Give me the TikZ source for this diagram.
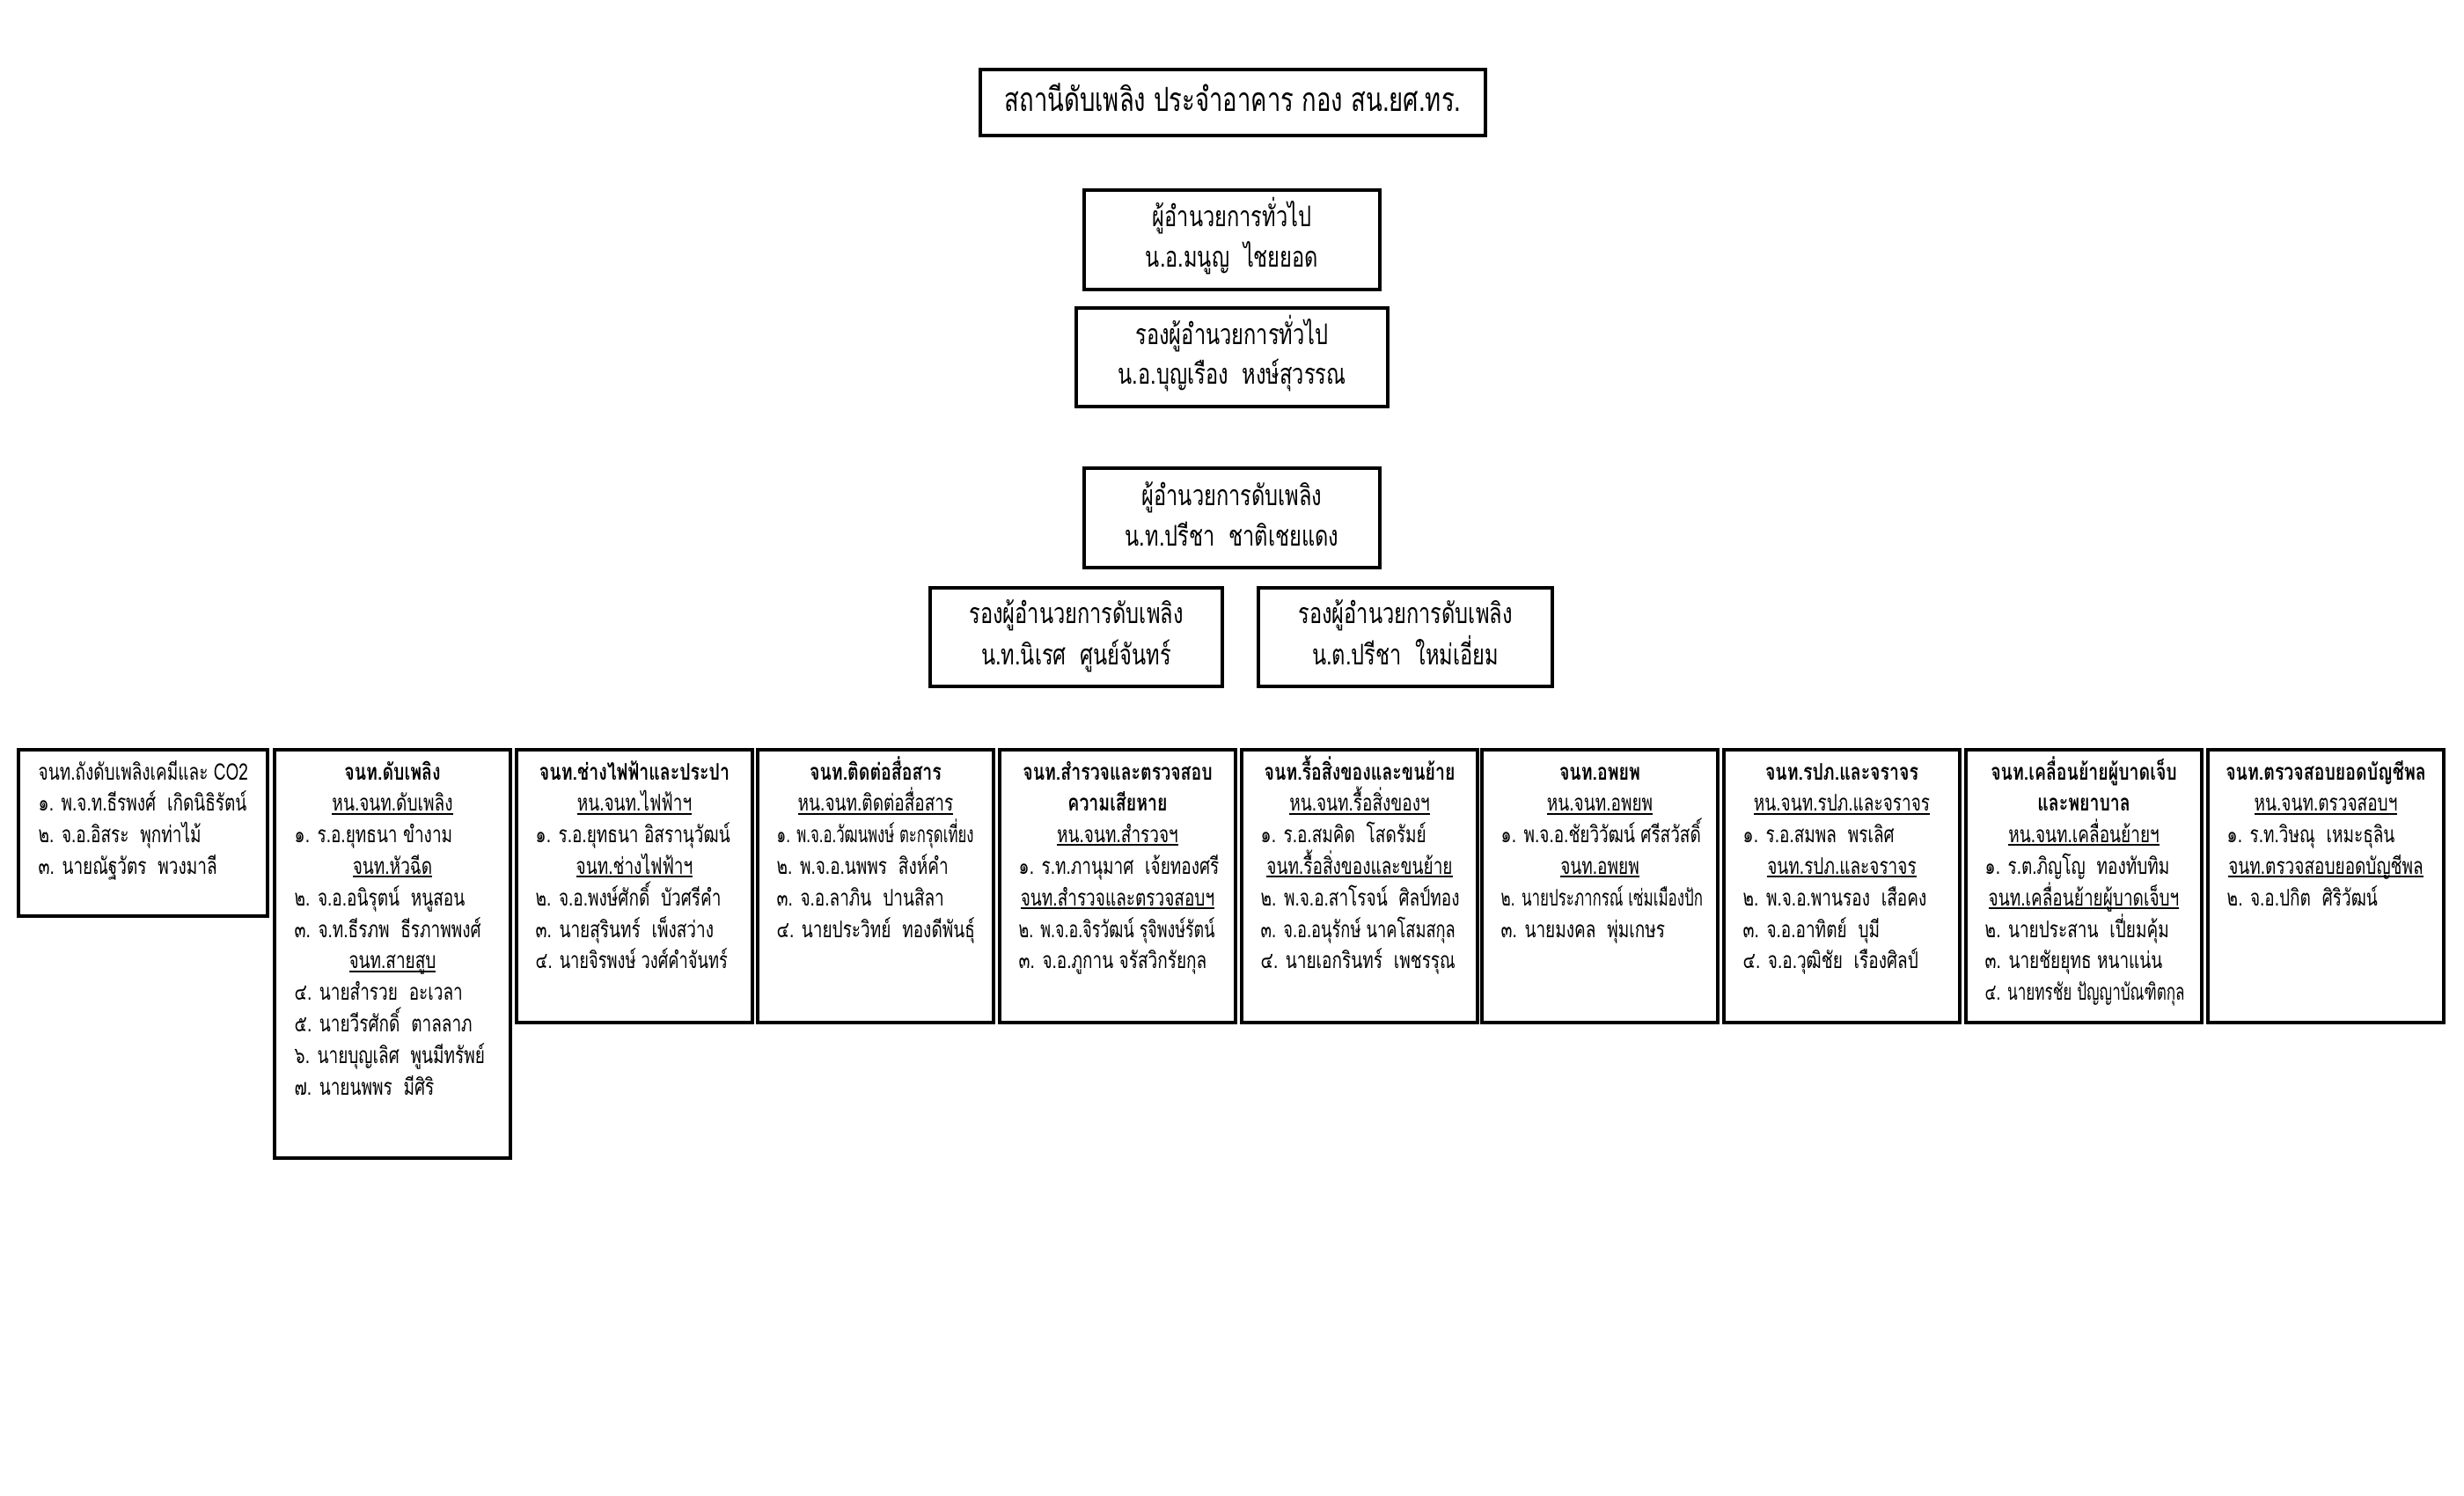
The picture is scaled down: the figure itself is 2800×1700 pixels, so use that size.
\documentclass[tikz,border=0pt]{standalone}
\usepackage{fontspec}
\usepackage{graphicx}
\newfontfamily\thaifont[Script=Thai,FakeStretch=0.73,BoldFeatures={FakeStretch=0.75}]{Loma}
\usetikzlibrary{fit}
\newcommand{\myul}[1]{\leavevmode\setbox0=\hbox{#1}\rlap{\vrule height -0.5pt depth 1.05pt width \wd0}\box0}
\newcommand{\sq}[2]{\scalebox{#1}[1]{#2}}
\tikzset{
  boxst/.style={draw, line width=1.1pt, inner sep=0pt},
  tl/.style={anchor=base west, inner sep=0pt, font=\thaifont\fontsize{7.4}{9}\selectfont},
  tc/.style={anchor=base, inner sep=0pt, font=\thaifont\fontsize{7.4}{9}\selectfont},
  th/.style={anchor=base, inner sep=0pt, font=\thaifont\bfseries\fontsize{7.4}{9}\selectfont},
  tbig/.style={anchor=base, inner sep=0pt, font=\thaifont\fontsize{9.2}{11}\selectfont},
  ttitle/.style={anchor=base, inner sep=0pt, font=\thaifont\fontsize{10.7}{12}\selectfont}
}
\newcommand{\LnL}[4]{\node[tl] (#1) at (#2,{886+35.8*(#3)}) {#4};}
\newcommand{\LnC}[4]{\node[tc] (#1) at (#2,{886+35.8*(#3)}) {\myul{#4}};}
\newcommand{\LnH}[4]{\node[th] (#1) at (#2,{886+35.8*(#3)}) {#4};}
\newcommand{\BoxN}[5]{\node[boxst, fit={(#2,#3) (#4,#5)}] (#1) {};}
\begin{document}
\begin{tikzpicture}[x=0.01cm,y=-0.01cm]
\useasboundingbox (0,0) rectangle (2800,1700);
% top boxes
\BoxN{title}{1114}{79}{1688}{154}
\node[ttitle] (titlet) at (1401,127) {สถานีดับเพลิง ประจำอาคาร กอง สน.ยศ.ทร.};
\BoxN{gm}{1232}{216}{1568}{329}
\node[tbig] (gma) at (1400,258) {ผู้อำนวยการทั่วไป};
\node[tbig] (gmb) at (1400,303) {น.อ.มนูญ~~ไชยยอด};
\BoxN{dgm}{1223}{350}{1577}{462}
\node[tbig] (dgma) at (1400,391) {รองผู้อำนวยการทั่วไป};
\node[tbig] (dgmb) at (1400,436) {น.อ.บุญเรือง~~หงษ์สุวรรณ};
\BoxN{fd}{1232}{532}{1568}{645}
\node[tbig] (fda) at (1400,574) {ผู้อำนวยการดับเพลิง};
\node[tbig] (fdb) at (1400,620) {น.ท.ปรีชา~~ชาติเชยแดง};
\BoxN{da}{1057}{668}{1389}{780}
\node[tbig] (daa) at (1223,708) {รองผู้อำนวยการดับเพลิง};
\node[tbig] (dab) at (1223,755) {น.ท.นิเรศ~~ศูนย์จันทร์};
\BoxN{db}{1430}{668}{1764}{780}
\node[tbig] (dba) at (1597,708) {รองผู้อำนวยการดับเพลิง};
\node[tbig] (dbb) at (1597,755) {น.ต.ปรีชา~~ใหม่เอี่ยม};
% box 1
\BoxN{b1}{21}{852}{304}{1041}
\LnL{b1r0}{43}{0}{จนท.ถังดับเพลิงเคมีและ CO2}
\LnL{b1r1}{43}{1}{๑. พ.จ.ท.ธีรพงศ์~~เกิดนิธิรัตน์}
\LnL{b1r2}{43}{2}{๒. จ.อ.อิสระ~~พุกท่าไม้}
\LnL{b1r3}{43}{3}{๓. นายณัฐวัตร~~พวงมาลี}
% box 2
\BoxN{b2}{312}{852}{580}{1316}
\LnH{b2r0}{446}{0}{จนท.ดับเพลิง}
\LnC{b2r1}{446}{1}{หน.จนท.ดับเพลิง}
\LnL{b2r2}{334}{2}{๑. ร.อ.ยุทธนา ขำงาม}
\LnC{b2r3}{446}{3}{จนท.หัวฉีด}
\LnL{b2r4}{334}{4}{๒. จ.อ.อนิรุตน์~~หนูสอน}
\LnL{b2r5}{334}{5}{๓. จ.ท.ธีรภพ~~ธีรภาพพงศ์}
\LnC{b2r6}{446}{6}{จนท.สายสูบ}
\LnL{b2r7}{334}{7}{๔. นายสำรวย~~อะเวลา}
\LnL{b2r8}{334}{8}{๕. นายวีรศักดิ์~~ตาลลาภ}
\LnL{b2r9}{334}{9}{๖. นายบุญเลิศ~~พูนมีทรัพย์}
\LnL{b2r10}{334}{10}{๗. นายนพพร~~มีศิริ}
% box 3
\BoxN{b3}{587}{852}{855}{1162}
\LnH{b3r0}{721}{0}{จนท.ช่างไฟฟ้าและประปา}
\LnC{b3r1}{721}{1}{หน.จนท.ไฟฟ้าฯ}
\LnL{b3r2}{608}{2}{๑. ร.อ.ยุทธนา อิสรานุวัฒน์}
\LnC{b3r3}{721}{3}{จนท.ช่างไฟฟ้าฯ}
\LnL{b3r4}{608}{4}{๒. จ.อ.พงษ์ศักดิ์~~บัวศรีคำ}
\LnL{b3r5}{608}{5}{๓. นายสุรินทร์~~เพ็งสว่าง}
\LnL{b3r6}{608}{6}{\sq{0.96}{๔. นายจิรพงษ์ วงศ์คำจันทร์}}
% box 4
\BoxN{b4}{861}{852}{1129}{1162}
\LnH{b4r0}{995}{0}{จนท.ติดต่อสื่อสาร}
\LnC{b4r1}{995}{1}{หน.จนท.ติดต่อสื่อสาร}
\LnL{b4r2}{882}{2}{\sq{0.88}{๑. พ.จ.อ.วัฒนพงษ์ ตะกรุดเที่ยง}}
\LnL{b4r3}{882}{3}{๒. พ.จ.อ.นพพร~~สิงห์คำ}
\LnL{b4r4}{882}{4}{๓. จ.อ.ลาภิน~~ปานสิลา}
\LnL{b4r5}{882}{5}{๔. นายประวิทย์~~ทองดีพันธุ์}
% box 5
\BoxN{b5}{1136}{852}{1404}{1162}
\LnH{b5r0}{1270}{0}{จนท.สำรวจและตรวจสอบ}
\LnH{b5r1}{1270}{1}{ความเสียหาย}
\LnC{b5r2}{1270}{2}{หน.จนท.สำรวจฯ}
\LnL{b5r3}{1157}{3}{๑. ร.ท.ภานุมาศ~~เจ้ยทองศรี}
\LnC{b5r4}{1270}{4}{จนท.สำรวจและตรวจสอบฯ}
\LnL{b5r5}{1157}{5}{\sq{0.94}{๒. พ.จ.อ.จิรวัฒน์ รุจิพงษ์รัตน์}}
\LnL{b5r6}{1157}{6}{๓. จ.อ.ภูกาน จรัสวิกรัยกุล}
% box 6
\BoxN{b6}{1411}{852}{1679}{1162}
\LnH{b6r0}{1545}{0}{จนท.รื้อสิ่งของและขนย้าย}
\LnC{b6r1}{1545}{1}{หน.จนท.รื้อสิ่งของฯ}
\LnL{b6r2}{1432}{2}{๑. ร.อ.สมคิด~~โสดรัมย์}
\LnC{b6r3}{1545}{3}{จนท.รื้อสิ่งของและขนย้าย}
\LnL{b6r4}{1432}{4}{๒. พ.จ.อ.สาโรจน์~~ศิลป์ทอง}
\LnL{b6r5}{1432}{5}{\sq{0.96}{๓. จ.อ.อนุรักษ์ นาคโสมสกุล}}
\LnL{b6r6}{1432}{6}{๔. นายเอกรินทร์~~เพชรรุณ}
% box 7
\BoxN{b7}{1684}{852}{1952}{1162}
\LnH{b7r0}{1818}{0}{จนท.อพยพ}
\LnC{b7r1}{1818}{1}{หน.จนท.อพยพ}
\LnL{b7r2}{1705}{2}{๑. พ.จ.อ.ชัยวิวัฒน์ ศรีสวัสดิ์}
\LnC{b7r3}{1818}{3}{จนท.อพยพ}
\LnL{b7r4}{1705}{4}{\sq{0.89}{๒. นายประภากรณ์ เซ่มเมืองปัก}}
\LnL{b7r5}{1705}{5}{๓. นายมงคล~~พุ่มเกษร}
% box 8
\BoxN{b8}{1959}{852}{2227}{1162}
\LnH{b8r0}{2093}{0}{จนท.รปภ.และจราจร}
\LnC{b8r1}{2093}{1}{หน.จนท.รปภ.และจราจร}
\LnL{b8r2}{1980}{2}{๑. ร.อ.สมพล~~พรเลิศ}
\LnC{b8r3}{2093}{3}{จนท.รปภ.และจราจร}
\LnL{b8r4}{1980}{4}{๒. พ.จ.อ.พานรอง~~เสือคง}
\LnL{b8r5}{1980}{5}{๓. จ.อ.อาทิตย์~~บุมี}
\LnL{b8r6}{1980}{6}{๔. จ.อ.วุฒิชัย~~เรืองศิลป์}
% box 9
\BoxN{b9}{2234}{852}{2502}{1162}
\LnH{b9r0}{2368}{0}{จนท.เคลื่อนย้ายผู้บาดเจ็บ}
\LnH{b9r1}{2368}{1}{และพยาบาล}
\LnC{b9r2}{2368}{2}{หน.จนท.เคลื่อนย้ายฯ}
\LnL{b9r3}{2255}{3}{๑. ร.ต.ภิญโญ~~ทองทับทิม}
\LnC{b9r4}{2368}{4}{จนท.เคลื่อนย้ายผู้บาดเจ็บฯ}
\LnL{b9r5}{2255}{5}{๒. นายประสาน~~เปี่ยมคุ้ม}
\LnL{b9r6}{2255}{6}{๓. นายชัยยุทธ หนาแน่น}
\LnL{b9r7}{2255}{7}{\sq{0.9}{๔. นายทรชัย ปัญญาบัณฑิตกุล}}
% box 10
\BoxN{b10}{2509}{852}{2777}{1162}
\LnH{b10r0}{2643}{0}{จนท.ตรวจสอบยอดบัญชีพล}
\LnC{b10r1}{2643}{1}{หน.จนท.ตรวจสอบฯ}
\LnL{b10r2}{2530}{2}{๑. ร.ท.วิษณุ~~เหมะธุลิน}
\LnC{b10r3}{2643}{3}{จนท.ตรวจสอบยอดบัญชีพล}
\LnL{b10r4}{2530}{4}{๒. จ.อ.ปกิต~~ศิริวัฒน์}
\end{tikzpicture}
\end{document}
